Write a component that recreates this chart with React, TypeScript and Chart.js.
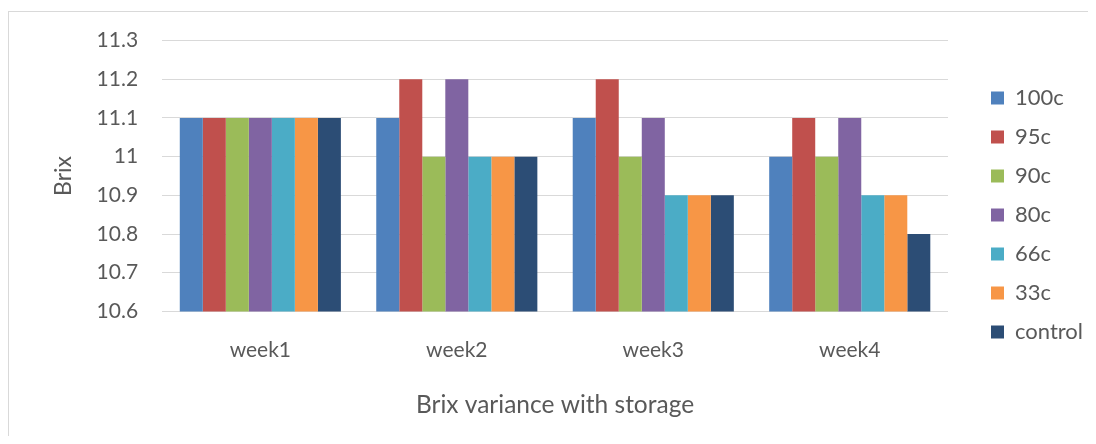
import React, { useEffect, useRef } from "react";
import { Chart, registerables } from "chart.js";

Chart.register(...registerables);

const categories = ["week1", "week2", "week3", "week4"];
const seriesNames = ["100c", "95c", "90c", "80c", "66c", "33c", "control"];
const seriesColors = ["#4F81BD", "#C0504D", "#9BBB59", "#8064A2", "#4BACC6", "#F79646", "#2C4D75"];
const s100c = [11.1, 11.1, 11.1, 11.0];
const s95c = [11.1, 11.2, 11.2, 11.1];
const s90c = [11.1, 11.0, 11.0, 11.0];
const s80c = [11.1, 11.2, 11.1, 11.1];
const s66c = [11.1, 11.0, 10.9, 10.9];
const s33c = [11.1, 11.0, 10.9, 10.9];
const sControl = [11.1, 11.0, 10.9, 10.8];
const seriesValues = [s100c, s95c, s90c, s80c, s66c, s33c, sControl];
const yMin = 10.6;
const yMax = 11.3;
const yStep = 0.1;

const FONT = "Lato, 'Liberation Sans', sans-serif";
const TEXT = "#595959";

export default function App() {
  const ref = useRef<HTMLCanvasElement | null>(null);
  useEffect(() => {
    if (!ref.current) return;
    const chart = new Chart(ref.current, {
      type: "bar",
      data: {
        labels: categories,
        datasets: seriesNames.map((name, i) => ({
          label: name,
          data: seriesValues[i],
          backgroundColor: seriesColors[i],
          borderWidth: 0,
          categoryPercentage: 0.82,
          barPercentage: 1,
        })),
      },
      options: {
        responsive: false,
        animation: false,
        layout: { padding: { top: 6, bottom: 12, left: 41, right: 0 } },
        plugins: {
          tooltip: { enabled: false },
          legend: {
            position: "right",
            labels: {
              boxWidth: 13,
              boxHeight: 13,
              padding: 17,
              color: TEXT,
              font: { family: FONT, size: 22 },
            },
          },
        },
        scales: {
          x: {
            grid: { display: false },
            border: { display: false },
            ticks: { color: TEXT, font: { family: FONT, size: 21 }, padding: 18 },
            title: {
              display: true,
              text: "Brix variance with storage",
              color: TEXT,
              font: { family: FONT, size: 24.5 },
              padding: { top: 10, bottom: 0 },
            },
          },
          y: {
            min: yMin,
            max: yMax,
            grid: { color: "#d9d9d9", drawTicks: false, lineWidth: 1 },
            border: { display: false },
            ticks: {
              stepSize: yStep,
              color: TEXT,
              font: { family: FONT, size: 21 },
              padding: 24,
              callback: (v: any) => String(Number(Number(v).toFixed(1))),
            },
            title: {
              display: true,
              text: "Brix",
              color: TEXT,
              font: { family: FONT, size: 23 },
              padding: { top: 0, bottom: -5 },
            },
          },
          gap: {
            position: "right",
            display: true,
            grid: { display: false },
            border: { display: false },
            ticks: { display: false },
            afterFit: (s: any) => {
              s.width = 26;
            },
          },
        },
      } as any,
    });
    return () => chart.destroy();
  }, []);
  return (
    <div
      style={{
        marginTop: 3,
        width: 1088,
        height: 425,
        borderTop: "1px solid #d9d9d9",
        borderLeft: "1px solid #d9d9d9",
        boxSizing: "border-box",
        overflow: "hidden",
      }}
    >
      <canvas ref={ref} width={1084} height={428} style={{ display: "block", marginTop: -8 }} />
    </div>
  );
}
